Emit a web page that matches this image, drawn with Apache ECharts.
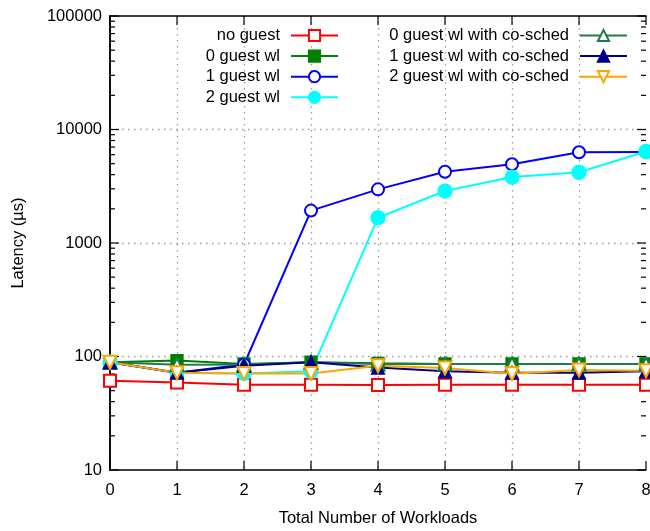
<!DOCTYPE html>
<html>
<head>
<meta charset="utf-8">
<script src="https://cdn.jsdelivr.net/npm/echarts@6/dist/echarts.min.js"></script>
<style>
  html, body { margin: 0; padding: 0; background: #fff; }
  #chart { width: 650px; height: 531px; }
</style>
</head>
<body>
<div id="chart"></div>
<script>
// Total number of workloads (x axis)
const workloads = [0, 1, 2, 3, 4, 5, 6, 7, 8];

// Latency in microseconds for each configuration
const noGuest   = [61, 59, 56.5, 56.5, 56, 56.5, 56.5, 56.5, 56.5];
const guest0    = [89, 92, 86, 89, 87, 86, 86, 86, 86];
const guest1    = [89, 72, 85, 1930, 2970, 4250, 4940, 6300, 6350];
const guest2    = [89, 72, 71, 74, 1670, 2870, 3810, 4200, 6400];
const cosched0  = [89, 84.5, 85, 89, 86, 86, 86, 86, 86];
const cosched1  = [89, 72, 83, 89, 80, 74, 72, 72, 74];
const cosched2  = [89, 72, 71, 71, 83, 79, 70.5, 76, 75];

// Axis ranges and tick positions
const yMin = 10, yMax = 100000;
const xMin = 0, xMax = 8;
const majorYTicks = [10, 100, 1000, 10000, 100000];
const minorYTicks = [
  20, 30, 40, 50, 60, 70, 80, 90,
  200, 300, 400, 500, 600, 700, 800, 900,
  2000, 3000, 4000, 5000, 6000, 7000, 8000, 9000,
  20000, 30000, 40000, 50000, 60000, 70000, 80000, 90000
];

const names = [
  'no guest', '0 guest wl', '1 guest wl', '2 guest wl',
  '0 guest wl with co-sched', '1 guest wl with co-sched', '2 guest wl with co-sched'
];

const font = 'Liberation Sans, Arial, sans-serif';
const textColor = '#000';
const fs = 16.5;
const pair = arr => arr.map((v, i) => [workloads[i], v]);

function lineSeries(name, data, color, symbol, size, extra) {
  return Object.assign({
    name: name,
    type: 'line',
    data: pair(data),
    symbol: symbol,
    symbolSize: size,
    color: color,
    lineStyle: { width: 2, color: color },
    itemStyle: { color: color, borderColor: color, borderWidth: 1.3 },
    emphasis: { disabled: true },
    z: 3
  }, extra || {});
}

// Inward tick marks drawn on both opposite edges of the plot frame
const tickStyle = { stroke: '#000', lineWidth: 1.2 };

function yTickItem(params, api) {
  const pt = api.coord([xMin, api.value(1)]);
  const len = api.value(2);
  const cs = params.coordSys;
  return {
    type: 'group',
    children: [
      { type: 'line', shape: { x1: cs.x, y1: pt[1], x2: cs.x + len, y2: pt[1] }, style: tickStyle },
      { type: 'line', shape: { x1: cs.x + cs.width - len, y1: pt[1], x2: cs.x + cs.width, y2: pt[1] }, style: tickStyle }
    ]
  };
}

function xTickItem(params, api) {
  const pt = api.coord([api.value(0), yMin]);
  const len = api.value(2);
  const cs = params.coordSys;
  return {
    type: 'group',
    children: [
      { type: 'line', shape: { x1: pt[0], y1: cs.y + cs.height, x2: pt[0], y2: cs.y + cs.height - len }, style: tickStyle },
      { type: 'line', shape: { x1: pt[0], y1: cs.y, x2: pt[0], y2: cs.y + len }, style: tickStyle }
    ]
  };
}

const chart = echarts.init(document.getElementById('chart'), null, { renderer: 'canvas' });

const legendCommon = {
  orient: 'vertical',
  align: 'right',
  top: 22,
  itemWidth: 47,
  itemHeight: 14,
  itemGap: 3.6,
  textStyle: { fontSize: fs, color: textColor, fontFamily: font, padding: [0, 6, 0, 0] }
};

chart.setOption({
  animation: false,
  backgroundColor: '#fff',
  textStyle: { fontFamily: font },
  grid: { left: 110, right: 4, top: 16, bottom: 61, containLabel: false, outerBoundsMode: 'none' },
  legend: [
    Object.assign({ data: names.slice(0, 4), right: 306 }, legendCommon),
    Object.assign({ data: names.slice(4), right: 17 }, legendCommon)
  ],
  xAxis: [
    {
      type: 'value',
      min: xMin, max: xMax, interval: 1,
      name: 'Total Number of Workloads',
      nameLocation: 'middle',
      nameGap: 40,
      nameTextStyle: { fontSize: fs, color: textColor, fontFamily: font },
      axisLine: { lineStyle: { color: '#000', width: 1.5 } },
      axisTick: { show: false },
      axisLabel: { fontSize: fs, color: textColor, margin: 12, fontFamily: font },
      splitLine: {
        show: true,
        showMinLine: false, showMaxLine: false,
        lineStyle: { color: '#9a9a9a', type: [1.5, 4.5], width: 1.3 }
      }
    },
    {
      type: 'value',
      position: 'top',
      min: xMin, max: xMax, interval: 1,
      axisLine: { lineStyle: { color: '#000', width: 1.5 } },
      axisTick: { show: false },
      axisLabel: { show: false },
      splitLine: { show: false }
    }
  ],
  yAxis: [
    {
      type: 'log',
      logBase: 10,
      min: yMin, max: yMax,
      name: 'Latency (µs)',
      nameLocation: 'middle',
      nameGap: 83,
      nameRotate: 90,
      nameTextStyle: { fontSize: fs, color: textColor, fontFamily: font },
      axisLine: { lineStyle: { color: '#000', width: 1.5 } },
      axisTick: { show: false },
      axisLabel: {
        fontSize: fs, color: textColor, margin: 8, fontFamily: font,
        formatter: v => String(Math.round(v))
      },
      splitLine: {
        show: true,
        showMinLine: false, showMaxLine: false,
        lineStyle: { color: '#9a9a9a', type: [1.5, 4.5], width: 1.3 }
      }
    },
    {
      type: 'log',
      logBase: 10,
      position: 'right',
      min: yMin, max: yMax,
      axisLine: { lineStyle: { color: '#000', width: 1.5 } },
      axisTick: { show: false },
      axisLabel: { show: false },
      splitLine: { show: false }
    }
  ],
  series: [
    {
      type: 'custom',
      name: 'y ticks',
      silent: true,
      clip: false,
      z: 1,
      data: majorYTicks.map(v => [xMin, v, 9]).concat(minorYTicks.map(v => [xMin, v, 5])),
      renderItem: yTickItem
    },
    {
      type: 'custom',
      name: 'x ticks',
      silent: true,
      clip: false,
      z: 1,
      data: workloads.map(x => [x, yMin, 9]),
      renderItem: xTickItem
    },
    lineSeries(names[0], noGuest,  '#ff0000', 'emptyRect', 12),
    lineSeries(names[1], guest0,   '#008000', 'rect', 12),
    lineSeries(names[2], guest1,   '#0000ff', 'emptyCircle', 12),
    lineSeries(names[3], guest2,   '#00ffff', 'circle', 14),
    lineSeries(names[4], cosched0, '#1f7a4a', 'emptyTriangle', 13),
    lineSeries(names[5], cosched1, '#00008b', 'triangle', 13),
    lineSeries(names[6], cosched2, '#ffa500', 'emptyTriangle', 13, { symbolRotate: 180 })
  ]
});
</script>
</body>
</html>
